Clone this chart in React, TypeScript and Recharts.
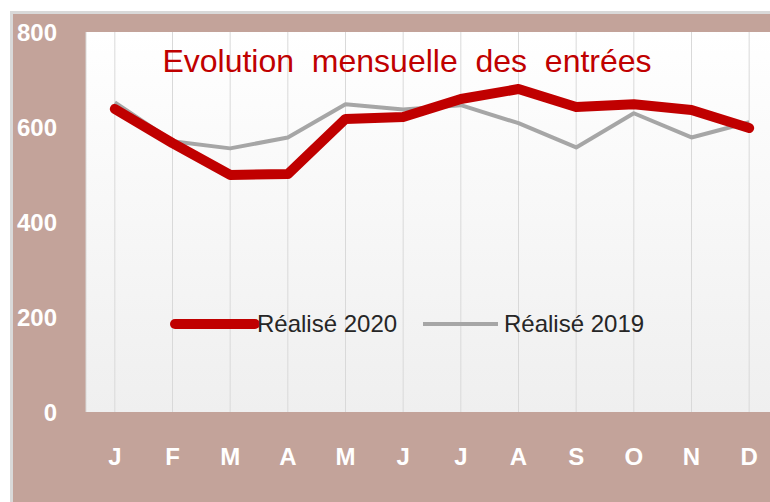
import React from 'react';
import { LineChart, Line, XAxis, YAxis, CartesianGrid } from 'recharts';

const months = ['J', 'F', 'M', 'A', 'M', 'J', 'J', 'A', 'S', 'O', 'N', 'D'];
const realise2020 = [638, 566, 499, 501, 617, 621, 659, 680, 642, 648, 636, 598];
const realise2019 = [652, 570, 555, 578, 648, 637, 646, 608, 557, 629, 578, 610];
const yTicks = [0, 200, 400, 600, 800];

const data = months.map((m, i) => ({
  key: `${m}-${i}`,
  month: m,
  r2020: realise2020[i],
  r2019: realise2019[i],
}));

const BROWN = '#c3a39a';
const RED = '#c00000';
const GREY = '#a6a6a6';
const FONT = '"Liberation Sans", Arial, sans-serif';

const XTick = ({ x, y, payload }: any) => (
  <text x={x} y={y + 45} textAnchor="middle" fill="#fff" fontWeight="bold" fontSize={24} fontFamily={FONT}>
    {months[payload.index] ?? payload.value}
  </text>
);

const YTick = ({ y, payload }: any) => (
  <text x={57} y={y + 9} textAnchor="end" fill="#fff" fontWeight="bold" fontSize={24} fontFamily={FONT}>
    {payload.value}
  </text>
);

// legend drawn straight into the svg so it doesn't eat plot height
const ChartLegend = () => (
  <g fontFamily={FONT} fontSize={24} fill="#262626">
    <line x1={175} y1={324} x2={255} y2={324} stroke={RED} strokeWidth={10} strokeLinecap="round" />
    <text x={257} y={332}>Réalisé 2020</text>
    <line x1={423} y1={324} x2={498} y2={324} stroke={GREY} strokeWidth={4} />
    <text x={504} y={332}>Réalisé 2019</text>
  </g>
);

export default function App() {
  return (
    <div style={{ position: 'absolute', left: 0, top: 0, width: 770, height: 502, overflow: 'hidden', background: '#fff' }}>
      <div style={{
        position: 'absolute', left: 10, top: 11, width: 800, height: 520,
        borderTop: '3px solid #d9d9d9', borderLeft: '3px solid #d9d9d9', background: BROWN,
      }} />
      <div style={{ position: 'absolute', left: 0, top: 0 }}>
        <LineChart width={800} height={502} data={data} margin={{ top: 32, right: 22, bottom: 60, left: 0 }}>
          <defs>
            <linearGradient id="plotBg" x1="0" y1="0" x2="0" y2="1">
              <stop offset="0%" stopColor="#ffffff" />
              <stop offset="100%" stopColor="#efefef" />
            </linearGradient>
          </defs>
          <CartesianGrid horizontal={false} stroke="#d9d9d9" fill="url(#plotBg)" />
          <XAxis dataKey="key" scale="band" height={30} axisLine={false} tickLine={false} tick={<XTick />} interval={0} />
          <YAxis width={86} domain={[0, 800]} ticks={yTicks} axisLine={false} tickLine={false} tick={<YTick />} />
          <text x={407} y={72} textAnchor="middle" fill={RED} fontSize={32} fontFamily={FONT} style={{ whiteSpace: 'pre' }}>
            {'Evolution  mensuelle  des  entrées'}
          </text>
          <ChartLegend />
          <Line dataKey="r2019" stroke={GREY} strokeWidth={4} dot={false} isAnimationActive={false} strokeLinejoin="round" />
          <Line dataKey="r2020" stroke={RED} strokeWidth={10} dot={false} isAnimationActive={false} strokeLinejoin="round" strokeLinecap="round" />
        </LineChart>
      </div>
    </div>
  );
}
